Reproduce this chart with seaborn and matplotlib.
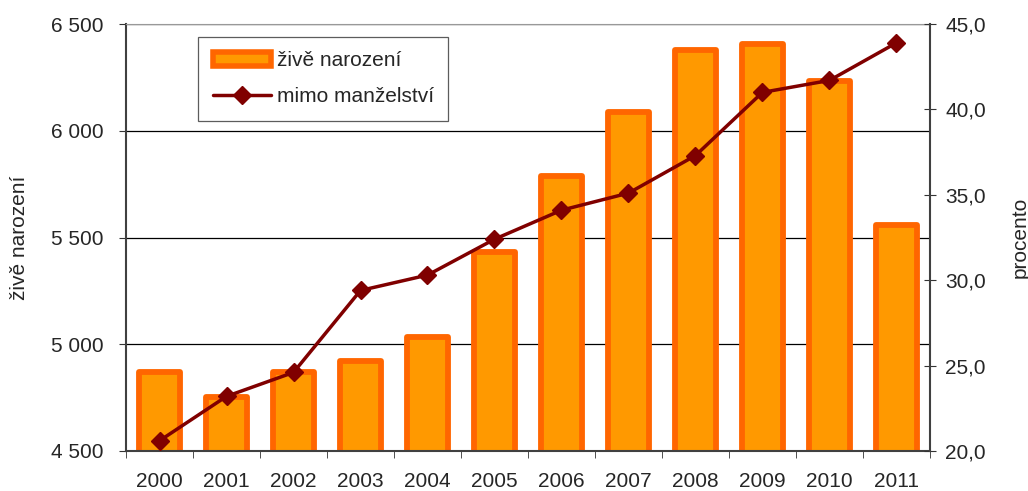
import numpy as np
import pandas as pd
import matplotlib
matplotlib.use("Agg")
import matplotlib.pyplot as plt
import seaborn as sns
from matplotlib.ticker import FuncFormatter, FixedLocator
from matplotlib.patches import Patch
from matplotlib.lines import Line2D

# data
years = ["2000", "2001", "2002", "2003", "2004", "2005",
         "2006", "2007", "2008", "2009", "2010", "2011"]
births = [4872, 4755, 4872, 4923, 5036, 5434, 5790, 6090, 6380, 6408, 6235, 5561]
outside_marriage = [20.6, 23.2, 24.6, 29.4, 30.3, 32.4, 34.1, 35.1, 37.3, 41.0, 41.7, 43.9]

df = pd.DataFrame({"rok": years, "narozeni": births, "mimo": outside_marriage})

sns.set_style("white")
plt.rcParams["font.family"] = ["Liberation Sans", "DejaVu Sans"]
fs = 15

fig = plt.figure(figsize=(10.28, 4.91), dpi=100)
ax = fig.add_axes([0.1226, 0.0815, 0.7820, 0.8695])

sns.barplot(data=df, x="rok", y="narozeni", ax=ax, color="#FF9900",
            saturation=1, width=0.6, edgecolor="#FF6600", linewidth=4.2)
for p in ax.patches:
    p.set_joinstyle("round")

ax.set_ylim(4500, 6500)
ax.set_yticks([4500, 5000, 5500, 6000, 6500])
ax.yaxis.set_major_formatter(FuncFormatter(lambda v, _: f"{int(v):,}".replace(",", " ")))
ax.set_xlim(-0.5, 11.5)
ax.grid(axis="y", color="black", linewidth=0.9)
ax.set_axisbelow(True)
ax.set_xlabel("")
ax.set_ylabel("živě narození", fontsize=fs, labelpad=16)

# tick marks between categories
ax.xaxis.set_minor_locator(FixedLocator(np.arange(-0.5, 12, 1)))
ax.tick_params(axis="x", which="major", length=0, pad=15, labelsize=fs)
ax.tick_params(axis="x", which="minor", length=5, color="#333333", direction="out", bottom=True)
ax.tick_params(axis="y", length=5, color="#333333", direction="out", left=True,
               labelsize=fs, pad=11)

for s in ["left", "bottom"]:
    ax.spines[s].set_color("#404040")
    ax.spines[s].set_linewidth(1.5)
ax.spines["top"].set_color("#999999")
ax.spines["right"].set_visible(False)

ax2 = ax.twinx()
ax2.plot(np.arange(len(years)), df["mimo"], color="#800000", linewidth=2.5,
         marker="D", markersize=9)
ax2.set_ylim(20, 45)
ax2.set_yticks([20, 25, 30, 35, 40, 45])
ax2.yaxis.set_major_formatter(FuncFormatter(lambda v, _: f"{v:.1f}".replace(".", ",")))
ax2.tick_params(axis="y", length=8, color="#333333", direction="inout", right=True,
                labelsize=fs, pad=7)
ax2.set_ylabel("procento", fontsize=fs, labelpad=18)
for s in ["left", "top", "bottom"]:
    ax2.spines[s].set_visible(False)
ax2.spines["right"].set_color("#404040")
ax2.spines["right"].set_linewidth(1.5)
ax2.set_xlim(-0.5, 11.5)

handles = [
    Patch(facecolor="#FF9900", edgecolor="#FF6600", linewidth=4, label="živě narození"),
    Line2D([0], [0], color="#800000", linewidth=2.5, marker="D", markersize=9,
           label="mimo manželství"),
]
leg = ax.legend(handles=handles, loc="upper left", bbox_to_anchor=(0.09, 0.97),
                frameon=True, fancybox=False, edgecolor="#333333", fontsize=fs,
                handlelength=2.8, handletextpad=0.25, borderpad=0.7, labelspacing=0.8,
                borderaxespad=0)
leg.get_frame().set_linewidth(0.9)
leg.set_zorder(10)

fig.savefig("out.png", dpi=100)
